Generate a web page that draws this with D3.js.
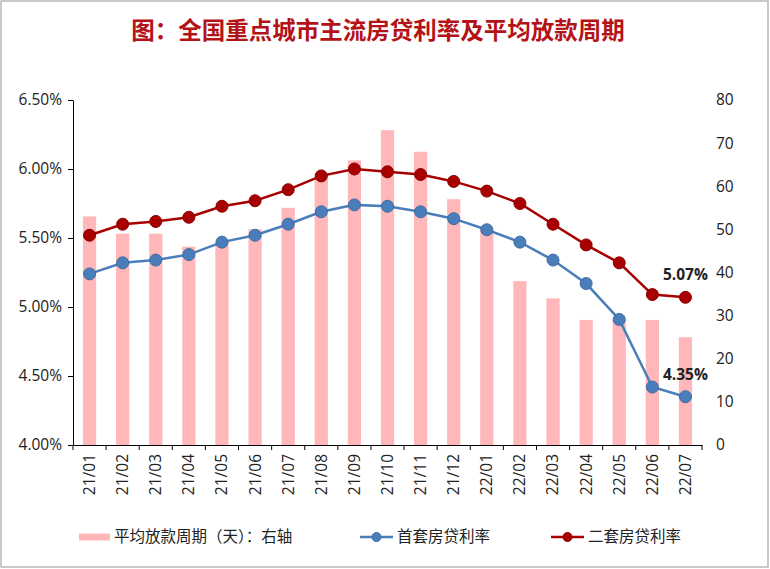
<!DOCTYPE html>
<html>
<head>
<meta charset="utf-8">
<script src="https://cdn.jsdelivr.net/npm/d3@7"></script>
<style>
  html, body { margin: 0; padding: 0; background: #fff; }
  svg { display: block; }
</style>
</head>
<body>
<svg id="chart" width="770" height="569"></svg>
<script>
const months = ["21/01","21/02","21/03","21/04","21/05","21/06","21/07","21/08","21/09","21/10","21/11","21/12","22/01","22/02","22/03","22/04","22/05","22/06","22/07"];
const loanDays = [53,49,49,46,47,50,55,63,66,73,68,57,50,38,34,29,29,29,25];
const firstRate = [5.24,5.32,5.34,5.38,5.47,5.52,5.60,5.69,5.74,5.73,5.69,5.64,5.56,5.47,5.34,5.17,4.91,4.42,4.35];
const secondRate = [5.52,5.60,5.62,5.65,5.73,5.77,5.85,5.95,6.00,5.98,5.96,5.91,5.84,5.75,5.60,5.45,5.32,5.09,5.07];
const leftTicks = [4.0,4.5,5.0,5.5,6.0,6.5];
const rightTicks = [0,10,20,30,40,50,60,70,80];
const titleText = "图：全国重点城市主流房贷利率及平均放款周期";
const legendLabels = ["平均放款周期（天）：右轴","首套房贷利率","二套房贷利率"];

const colBar = "#ffb7b9", colBlue = "#4a7ebb", colRed = "#a80000";
const latin = "'Open Sans', 'Noto Sans', sans-serif";
const cjk = "'Noto Sans CJK SC', sans-serif";

const svg = d3.select("#chart");
svg.append("rect").attr("x",1).attr("y",1).attr("width",767).attr("height",566)
  .attr("fill","#fff").attr("stroke","#a6a6a6").attr("stroke-width",1.2);

svg.append("text").attr("x",378).attr("y",39).attr("text-anchor","middle")
  .attr("font-family",cjk).attr("font-weight","bold").attr("font-size",23.5)
  .attr("fill","#b41217").text(titleText);

const L = 73, R = 702, T = 100, B = 445;
const x = d3.scaleBand().domain(months).range([L,R]).padding(0);
const yL = d3.scaleLinear().domain([4.0,6.5]).range([B,T]);
const yR = d3.scaleLinear().domain([0,80]).range([B,T]);
const cx = d => x(d) + x.bandwidth()/2;
const bw = x.bandwidth()*0.4;

// bars
svg.append("g").selectAll("rect").data(months).join("rect")
  .attr("x", d => cx(d) - bw/2)
  .attr("y", (d,i) => yR(loanDays[i]))
  .attr("width", bw)
  .attr("height", (d,i) => B - yR(loanDays[i]))
  .attr("fill", colBar);

// left axis
const gL = svg.append("g").attr("transform",`translate(${L},0)`)
  .call(d3.axisLeft(yL).tickValues(leftTicks).tickSize(5).tickSizeOuter(0).tickPadding(6)
    .tickFormat(d => d3.format(".2f")(d) + "%"));
gL.select(".domain").attr("stroke","#000");
gL.selectAll(".tick line").attr("stroke","#000");
gL.selectAll("text").attr("font-family",latin).attr("font-size",15.5).attr("fill","#222");

// right axis
const gR = svg.append("g").attr("transform",`translate(${R},0)`)
  .call(d3.axisRight(yR).tickValues(rightTicks).tickSize(0).tickPadding(14));
gR.select(".domain").remove();
gR.selectAll("text").attr("font-family",latin).attr("font-size",15.5).attr("fill","#222");

// bottom axis
const gB = svg.append("g").attr("transform",`translate(0,${B})`)
  .call(d3.axisBottom(x).tickSize(0).tickSizeOuter(0));
gB.select(".domain").attr("stroke","#000");
gB.selectAll(".tick text")
  .attr("font-family",latin).attr("font-size",15.5).attr("fill","#222")
  .attr("text-anchor","end")
  .attr("transform","rotate(-90)")
  .attr("x",-9).attr("y",0).attr("dy","0.35em");
// boundary ticks
const bounds = months.map(d => x(d)).concat([R]);
gB.selectAll(".btick").data(bounds).join("line").attr("class","btick")
  .attr("x1",d=>d).attr("x2",d=>d).attr("y1",0).attr("y2",5).attr("stroke","#000");

// lines
function series(vals, col, stroke) {
  const line = d3.line().x((d,i)=>cx(months[i])).y(d=>yL(d));
  svg.append("path").datum(vals).attr("d",line).attr("fill","none")
    .attr("stroke",col).attr("stroke-width",2.5);
  svg.append("g").selectAll("circle").data(vals).join("circle")
    .attr("cx",(d,i)=>cx(months[i])).attr("cy",d=>yL(d)).attr("r",6)
    .attr("fill",col).attr("stroke",stroke).attr("stroke-width",1);
}
series(firstRate, colBlue, "#3d6ba3");
series(secondRate, colRed, "#8a0000");

// annotations
const last = months.length-1;
svg.append("text").attr("x",cx(months[last])).attr("y",yL(secondRate[last])-17)
  .attr("text-anchor","middle").attr("font-family",latin).attr("font-weight","bold")
  .attr("font-size",15.5).attr("fill","#222").text(d3.format(".2f")(secondRate[last])+"%");
svg.append("text").attr("x",cx(months[last])).attr("y",yL(firstRate[last])-17)
  .attr("text-anchor","middle").attr("font-family",latin).attr("font-weight","bold")
  .attr("font-size",15.5).attr("fill","#222").text(d3.format(".2f")(firstRate[last])+"%");

// legend
const lg = svg.append("g");
const ly = 537;
lg.append("rect").attr("x",79).attr("y",ly-3.5).attr("width",31).attr("height",7).attr("fill",colBar);
lg.append("text").attr("x",114).attr("y",ly).attr("dy","0.35em").attr("font-family",cjk)
  .attr("font-size",15.5).attr("fill","#222").text(legendLabels[0]);
[[360,colBlue,"#3d6ba3",legendLabels[1]],[551,colRed,"#8a0000",legendLabels[2]]].forEach(([x0,c,s,t])=>{
  lg.append("line").attr("x1",x0).attr("x2",x0+33).attr("y1",ly).attr("y2",ly).attr("stroke",c).attr("stroke-width",2.5);
  lg.append("circle").attr("cx",x0+16.5).attr("cy",ly).attr("r",4.5).attr("fill",c).attr("stroke",s);
  lg.append("text").attr("x",x0+37).attr("y",ly).attr("dy","0.35em").attr("font-family",cjk)
    .attr("font-size",15.5).attr("fill","#222").text(t);
});
</script>
</body>
</html>
